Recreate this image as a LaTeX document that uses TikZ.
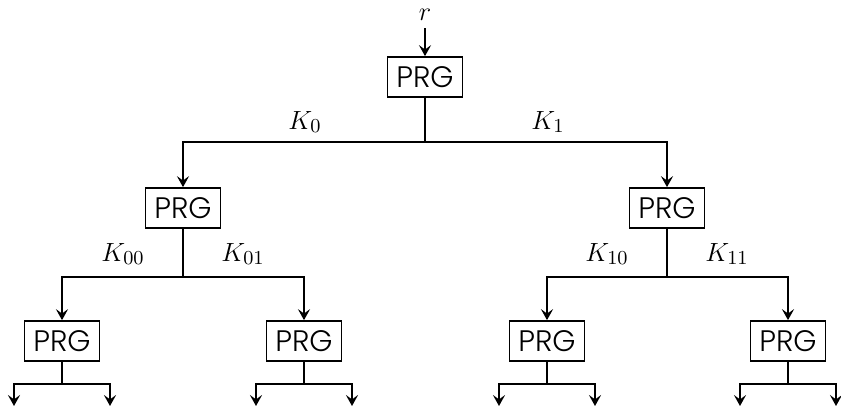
\documentclass[tikz,border=0pt]{standalone}
\usepackage{fontspec}
\newfontfamily\prgfont{Poppins Light}
\usetikzlibrary{arrows.meta,positioning}

\begin{document}
\begin{tikzpicture}[
  x=0.016cm, y=-0.016cm,
  box/.style={draw, thick, rectangle, minimum width=1.2cm, minimum height=0.64cm, inner sep=0pt, font=\prgfont\fontsize{13.5}{15}\selectfont},
  lbl/.style={font=\fontsize{12.5}{15}\selectfont},
  arr/.style={-{Stealth[length=5pt, width=5.5pt, inset=2pt]}, thick}]
\useasboundingbox (0,0) rectangle (841,407);
% root
\node[lbl] (r) at (425,15) {$r$};
\node[box] (g) at (425,77) {PRG};
\draw[arr] (r) -- (g);
% first level
\coordinate (b) at (425,142);
\node[box] (g0) at (183,208) {PRG};
\node[box] (g1) at (667,208) {PRG};
\draw[arr] (g) -- (b) -| (g0);
\draw[arr] (b) -| (g1);
\node[lbl] at (305,122) {$K_0$};
\node[lbl] at (548,122) {$K_1$};
% second level
\coordinate (b0) at (183,277);
\coordinate (b1) at (667,277);
\node[box] (g00) at (62,341) {PRG};
\node[box] (g01) at (304,341) {PRG};
\node[box] (g10) at (547,341) {PRG};
\node[box] (g11) at (788,341) {PRG};
\draw[arr] (g0) -- (b0) -| (g00);
\draw[arr] (b0) -| (g01);
\draw[arr] (g1) -- (b1) -| (g10);
\draw[arr] (b1) -| (g11);
\node[lbl] at (123,254) {$K_{00}$};
\node[lbl] at (243,254) {$K_{01}$};
\node[lbl] at (607,254) {$K_{10}$};
\node[lbl] at (727,254) {$K_{11}$};
% leaves
\coordinate (b00) at (62,384);
\coordinate (b01) at (304,384);
\coordinate (b10) at (547,384);
\coordinate (b11) at (788,384);
\coordinate (e000) at (14,406);
\coordinate (e001) at (110,406);
\coordinate (e010) at (256,406);
\coordinate (e011) at (352,406);
\coordinate (e100) at (499,406);
\coordinate (e101) at (595,406);
\coordinate (e110) at (740,406);
\coordinate (e111) at (836,406);
\draw[arr] (g00) -- (b00) -| (e000);
\draw[arr] (b00) -| (e001);
\draw[arr] (g01) -- (b01) -| (e010);
\draw[arr] (b01) -| (e011);
\draw[arr] (g10) -- (b10) -| (e100);
\draw[arr] (b10) -| (e101);
\draw[arr] (g11) -- (b11) -| (e110);
\draw[arr] (b11) -| (e111);
\end{tikzpicture}
\end{document}
